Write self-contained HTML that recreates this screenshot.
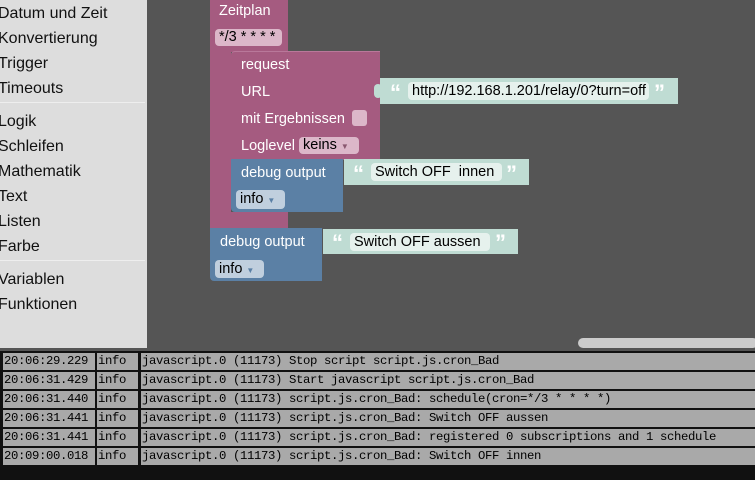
<!DOCTYPE html>
<html><head><meta charset="utf-8"><style>
*{margin:0;padding:0;box-sizing:border-box}
body{width:755px;height:480px;overflow:hidden;background:#555;position:relative;font-family:"Liberation Sans",sans-serif}
.a{position:absolute}
.side{left:0;top:0;width:147px;height:348px;background:#ddd}
.side div{position:absolute;left:-2px;font-size:16px;color:#111;line-height:20px}
.sep{position:absolute;left:0;width:147px;height:1px;background:#eee}
.pk{background:#a55b80}
.bl{background:#5b80a5}
.tx{background:#bfdcd3}
.w{color:#fff;font-size:14.5px;line-height:18px;white-space:nowrap}
.fld{border-radius:4px;font-size:14.5px;line-height:17px;color:#000;white-space:nowrap;padding-left:4px}
.q{color:#fff;font-size:22px;font-weight:bold;font-family:"Liberation Sans",sans-serif;line-height:20px}
.log{left:0;top:351px;width:755px;height:129px;background:#111}
.row{position:absolute;height:17px;background:#a9a9a9;font-family:"Liberation Mono",monospace;font-size:12.3px;letter-spacing:-0.38px;line-height:17px;color:#000;white-space:pre;padding-left:1px;overflow:hidden}
</style></head><body>
<div class="a side">
<div style="top:4px">Datum und Zeit</div>
<div style="top:29px">Konvertierung</div>
<div style="top:54px">Trigger</div>
<div style="top:79px">Timeouts</div>
<div class="sep" style="top:102px"></div>
<div style="top:112px">Logik</div>
<div style="top:137px">Schleifen</div>
<div style="top:162px">Mathematik</div>
<div style="top:187px">Text</div>
<div style="top:212px">Listen</div>
<div style="top:237px">Farbe</div>
<div class="sep" style="top:260px"></div>
<div style="top:270px">Variablen</div>
<div style="top:295px">Funktionen</div>
</div>

<!-- Zeitplan -->
<div class="a pk" style="left:210px;top:0;width:78px;height:52px"></div>
<div class="a pk" style="left:210px;top:0;width:21px;height:228px;border-radius:0 0 0 4px"></div>
<div class="a pk" style="left:210px;top:212px;width:78px;height:16px"></div>
<div class="a w" style="left:219px;top:2px">Zeitplan</div>
<div class="a fld" style="left:215px;top:29px;width:67px;height:17px;background:#dcb7c9">*/3 * * * *</div>

<!-- request -->
<div class="a pk" style="left:231px;top:51px;width:149px;height:109px;border-radius:4px 0 0 0;border-top:1px solid #b9789a"></div>
<div class="a w" style="left:241px;top:56px">request</div>
<div class="a w" style="left:241px;top:83px">URL</div>
<div class="a w" style="left:241px;top:110px">mit Ergebnissen</div>
<div class="a" style="left:352px;top:110px;width:15px;height:16px;background:#dcb7c9;border-radius:3px"></div>
<div class="a w" style="left:241px;top:137px">Loglevel</div>
<div class="a fld" style="left:299px;top:137px;width:60px;height:17px;background:#dcb7c9">keins <span style="font-size:8px;color:#8a5870">▼</span></div>

<div class="a tx" style="left:380px;top:78px;width:298px;height:26px"></div>
<div class="a tx" style="left:374px;top:84px;width:8px;height:14px;border-radius:4px"></div>
<div class="a q" style="left:390px;top:83px">“</div>
<div class="a fld" style="left:408px;top:82px;width:241px;height:18px;background:#e6f1ed;line-height:18px">http://192.168.1.201/relay/0?turn=off</div>
<div class="a q" style="left:654px;top:83px">”</div>

<!-- inner debug -->
<div class="a bl" style="left:231px;top:159px;width:112px;height:53px;border-radius:0 0 0 4px"></div>
<div class="a w" style="left:241px;top:164px">debug output</div>
<div class="a fld" style="left:236px;top:190px;width:49px;height:19px;background:#c0cfde;line-height:19px">info <span style="font-size:8px;color:#5b80a5">▼</span></div>
<div class="a tx" style="left:344px;top:159px;width:185px;height:26px"></div>
<div class="a q" style="left:353px;top:164px">“</div>
<div class="a fld" style="left:371px;top:163px;width:131px;height:18px;background:#e6f1ed;line-height:18px">Switch OFF&nbsp; innen</div>
<div class="a q" style="left:506px;top:164px">”</div>

<!-- outer debug -->
<div class="a bl" style="left:210px;top:228px;width:112px;height:53px;border-radius:0 0 0 4px"></div>
<div class="a w" style="left:220px;top:233px">debug output</div>
<div class="a fld" style="left:215px;top:260px;width:49px;height:18px;background:#c0cfde;line-height:18px">info <span style="font-size:8px;color:#5b80a5">▼</span></div>
<div class="a tx" style="left:323px;top:229px;width:195px;height:25px"></div>
<div class="a q" style="left:332px;top:233px">“</div>
<div class="a fld" style="left:350px;top:233px;width:140px;height:18px;background:#e6f1ed;line-height:18px">Switch OFF aussen</div>
<div class="a q" style="left:495px;top:233px">”</div>

<!-- scrollbar -->
<div class="a" style="left:578px;top:338px;width:180px;height:10px;background:#ccc;border-radius:5px"></div>

<div class="a log">
<div class="row" style="left:3px;top:2px;width:92px">20:06:29.229</div><div class="row" style="left:97px;top:2px;width:41px">info</div><div class="row" style="left:141px;top:2px;width:614px">javascript.0 (11173) Stop script script.js.cron_Bad</div>
<div class="row" style="left:3px;top:21px;width:92px">20:06:31.429</div><div class="row" style="left:97px;top:21px;width:41px">info</div><div class="row" style="left:141px;top:21px;width:614px">javascript.0 (11173) Start javascript script.js.cron_Bad</div>
<div class="row" style="left:3px;top:40px;width:92px">20:06:31.440</div><div class="row" style="left:97px;top:40px;width:41px">info</div><div class="row" style="left:141px;top:40px;width:614px">javascript.0 (11173) script.js.cron_Bad: schedule(cron=*/3 * * * *)</div>
<div class="row" style="left:3px;top:59px;width:92px">20:06:31.441</div><div class="row" style="left:97px;top:59px;width:41px">info</div><div class="row" style="left:141px;top:59px;width:614px">javascript.0 (11173) script.js.cron_Bad: Switch OFF aussen</div>
<div class="row" style="left:3px;top:78px;width:92px">20:06:31.441</div><div class="row" style="left:97px;top:78px;width:41px">info</div><div class="row" style="left:141px;top:78px;width:614px">javascript.0 (11173) script.js.cron_Bad: registered 0 subscriptions and 1 schedule</div>
<div class="row" style="left:3px;top:97px;width:92px">20:09:00.018</div><div class="row" style="left:97px;top:97px;width:41px">info</div><div class="row" style="left:141px;top:97px;width:614px">javascript.0 (11173) script.js.cron_Bad: Switch OFF innen</div>
</div>
</body></html>
